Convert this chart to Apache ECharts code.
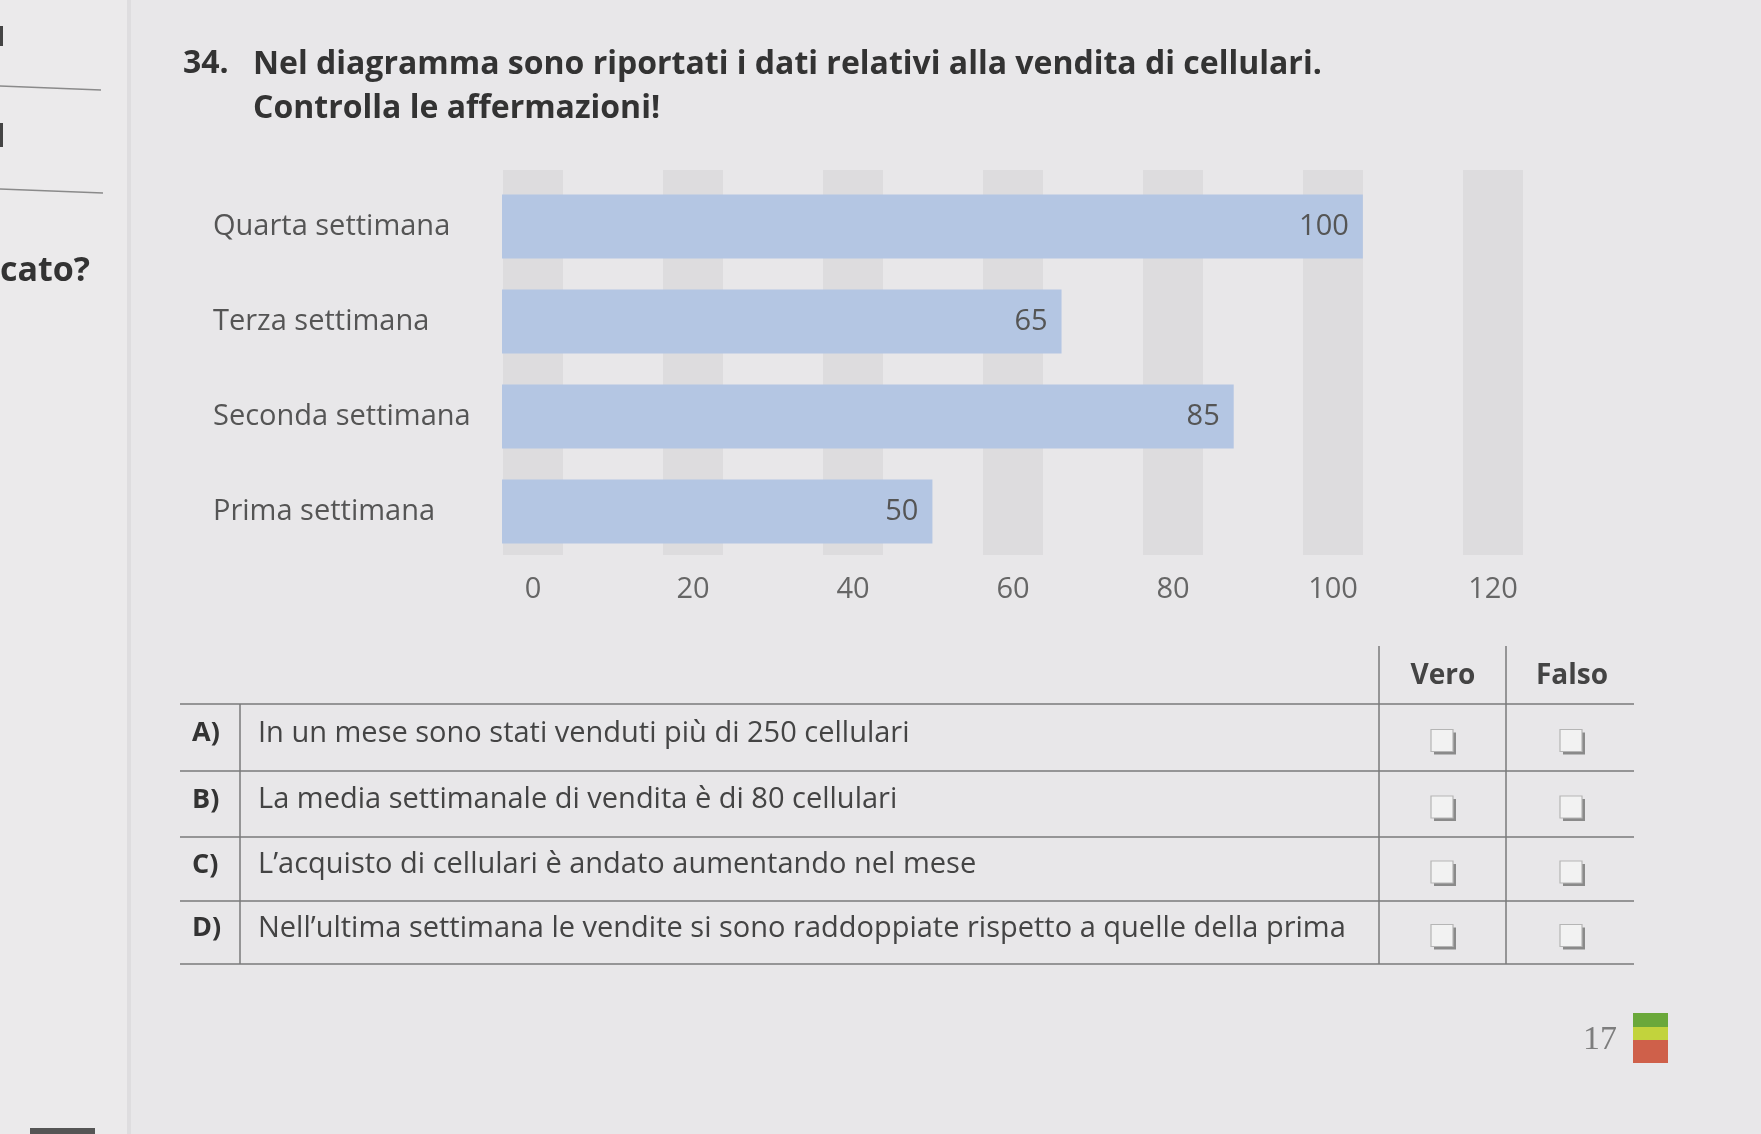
<!DOCTYPE html>
<html>
<head>
<meta charset="utf-8">
<title>Vendita di cellulari</title>
<script src="https://cdn.jsdelivr.net/npm/echarts@6/dist/echarts.min.js"></script>
<style>
  html, body { margin: 0; padding: 0; background: #e8e7e9; }
  #main { width: 1761px; height: 1134px; }
</style>
</head>
<body>
<div id="main"></div>
<script>
// dati del diagramma
const weeks = ['Prima settimana', 'Seconda settimana', 'Terza settimana', 'Quarta settimana'];
const sales = [50, 85, 65, 100];
const tickLabels = ['0', '20', '40', '60', '80', '100', '120'];
const columnHeights = [1, 1, 1, 1, 1, 1, 1]; // colonne grigie di sfondo

// tabella vero/falso
const letters = ['A)', 'B)', 'C)', 'D)'];
const statements = [
  'In un mese sono stati venduti più di 250 cellulari',
  'La media settimanale di vendita è di 80 cellulari',
  'L\u2019acquisto di cellulari è andato aumentando nel mese',
  'Nell\u2019ultima settimana le vendite si sono raddoppiate rispetto a quelle della prima'
];
const answers = ['Vero', 'Falso'];

const FONT = '"Open Sans", "Noto Sans", sans-serif';

let chart = echarts.init(document.getElementById('main'));

// elementi grafici: titolo, tabella, pagina
function buildGraphic() {
  let els = [];
  // pagina di sinistra
  els.push({ type: 'rect', shape: { x: 0, y: 0, width: 129, height: 1134 }, style: { fill: '#ebeaeb' }, z: -10 });
  els.push({ type: 'rect', shape: { x: 127, y: 0, width: 4, height: 1134 }, style: { fill: '#dedddf' }, z: -9 });
  els.push({ type: 'line', shape: { x1: 0, y1: 86, x2: 101, y2: 90 }, style: { stroke: '#8a8a8a', lineWidth: 1.5 } });
  els.push({ type: 'line', shape: { x1: 0, y1: 189, x2: 103, y2: 193 }, style: { stroke: '#8a8a8a', lineWidth: 1.5 } });
  els.push({ type: 'rect', shape: { x: 0, y: 26, width: 3, height: 20 }, style: { fill: '#444' } });
  els.push({ type: 'rect', shape: { x: 0, y: 123, width: 3, height: 24 }, style: { fill: '#444' } });
  els.push({ type: 'text', style: { text: 'cato?', x: 0, y: 271, font: 'bold 34px ' + FONT, fill: '#333', textAlign: 'left', textVerticalAlign: 'middle' } });
  els.push({ type: 'rect', shape: { x: 30, y: 1128, width: 65, height: 6 }, style: { fill: '#555' } });

  // titolo
  els.push({ type: 'text', style: { text: '34.', x: 183, y: 64, font: 'bold 32px ' + FONT, fill: '#333', textVerticalAlign: 'middle' } });
  els.push({ type: 'text', style: { text: 'Nel diagramma sono riportati i dati relativi alla vendita di cellulari.', x: 253, y: 65, font: 'bold 32px ' + FONT, fill: '#333', textVerticalAlign: 'middle' } });
  els.push({ type: 'text', style: { text: 'Controlla le affermazioni!', x: 253, y: 109, font: 'bold 32px ' + FONT, fill: '#333', textVerticalAlign: 'middle' } });

  // tabella
  const rowLines = [704, 771, 837, 901, 964];
  const lineStyle = { stroke: '#7a7a7a', lineWidth: 1.5 };
  rowLines.forEach(function (y) {
    els.push({ type: 'line', shape: { x1: 180, y1: y, x2: 1634, y2: y }, style: lineStyle });
  });
  els.push({ type: 'line', shape: { x1: 240, y1: 704, x2: 240, y2: 964 }, style: lineStyle });
  els.push({ type: 'line', shape: { x1: 1379, y1: 646, x2: 1379, y2: 964 }, style: lineStyle });
  els.push({ type: 'line', shape: { x1: 1506, y1: 646, x2: 1506, y2: 964 }, style: lineStyle });
  const colX = [1443, 1572];
  answers.forEach(function (a, i) {
    els.push({ type: 'text', style: { text: a, x: colX[i], y: 676, font: 'bold 28px ' + FONT, fill: '#444', textAlign: 'center', textVerticalAlign: 'middle' } });
  });
  statements.forEach(function (s, i) {
    let cy = (rowLines[i] + rowLines[i + 1]) / 2;
    els.push({ type: 'text', style: { text: letters[i], x: 192, y: cy - 4, font: 'bold 27px ' + FONT, fill: '#333', textVerticalAlign: 'middle' } });
    els.push({ type: 'text', style: { text: s, x: 258, y: cy - 4, font: '29px ' + FONT, fill: '#444', textVerticalAlign: 'middle' } });
    colX.forEach(function (x) {
      els.push({ type: 'rect', shape: { x: x - 9, y: cy - 5, width: 22, height: 22 }, style: { fill: '#8a8a8a' } });
      els.push({ type: 'rect', shape: { x: x - 12, y: cy - 8, width: 22, height: 22 }, style: { fill: '#f2f2f2', stroke: '#b5b5b5', lineWidth: 1.2 } });
    });
  });

  // numero di pagina
  els.push({ type: 'text', style: { text: '17', x: 1600, y: 1040, font: '34px "Liberation Serif", serif', fill: '#7d7d7d', textAlign: 'center', textVerticalAlign: 'middle' } });
  els.push({ type: 'rect', shape: { x: 1633, y: 1013, width: 35, height: 14 }, style: { fill: '#6aa83a' } });
  els.push({ type: 'rect', shape: { x: 1633, y: 1027, width: 35, height: 13 }, style: { fill: '#c2d33c' } });
  els.push({ type: 'rect', shape: { x: 1633, y: 1040, width: 35, height: 23 }, style: { fill: '#cf604a' } });
  return els;
}

let option = {
  backgroundColor: '#e8e7e9',
  animation: false,
  textStyle: { fontFamily: FONT },
  grid: [
    { left: 453, width: 1120, top: 170, height: 385 },
    { left: 502, width: 1033, top: 179, height: 380 }
  ],
  xAxis: [
    {
      gridIndex: 0,
      type: 'category',
      data: tickLabels,
      axisLine: { show: false },
      axisTick: { show: false },
      axisLabel: { fontSize: 29, color: '#666', margin: 20, fontFamily: FONT }
    },
    {
      gridIndex: 1,
      type: 'value',
      min: 0,
      max: 120,
      show: false
    }
  ],
  yAxis: [
    { gridIndex: 0, type: 'value', min: 0, max: 1, show: false },
    {
      gridIndex: 1,
      type: 'category',
      data: weeks,
      axisLine: { show: false },
      axisTick: { show: false },
      axisLabel: { align: 'left', margin: 289, fontSize: 29, color: '#555', fontFamily: FONT }
    }
  ],
  series: [
    {
      type: 'bar',
      xAxisIndex: 0,
      yAxisIndex: 0,
      data: columnHeights,
      barWidth: 60,
      silent: true,
      itemStyle: { color: '#dddcde' }
    },
    {
      type: 'bar',
      xAxisIndex: 1,
      yAxisIndex: 1,
      data: sales,
      barWidth: 64,
      itemStyle: { color: '#b4c6e3' },
      label: {
        show: true,
        position: 'insideRight',
        distance: 14,
        fontSize: 29,
        color: '#555',
        fontFamily: FONT
      }
    }
  ],
  graphic: buildGraphic()
};

chart.setOption(option);
</script>
</body>
</html>
